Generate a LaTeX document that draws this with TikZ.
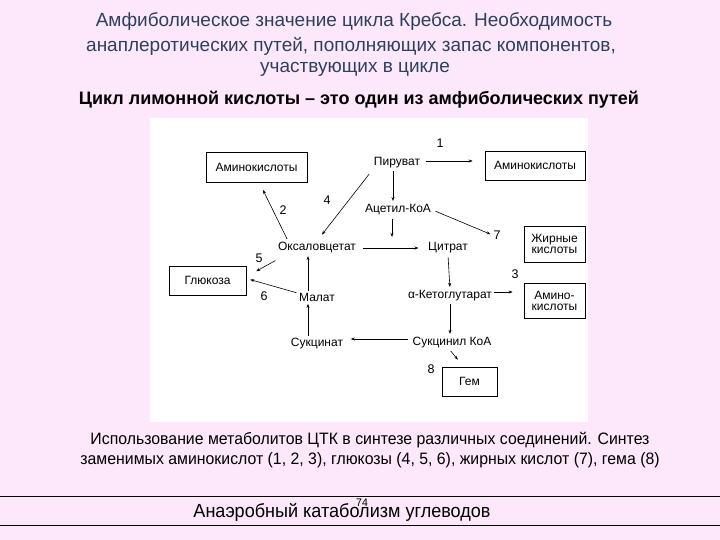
\documentclass[tikz,border=0pt]{standalone}
\usepackage{fontspec}
\setmainfont{Liberation Sans}
\newfontfamily\narrowfont[FakeStretch=0.96]{Liberation Sans}
\newfontfamily\footfont[FakeStretch=0.95]{Liberation Sans}
\usetikzlibrary{arrows.meta}
\definecolor{bgpink}{RGB}{252,232,250}
\definecolor{titleblue}{RGB}{45,65,95}
\tikzset{
  box/.style={draw, line width=0.7pt, inner sep=2pt, font=\fontsize{12}{13}\selectfont, align=center},
  met/.style={inner sep=1.5pt, font=\fontsize{12}{13}\selectfont},
  num/.style={inner sep=1pt, font=\fontsize{12.5}{14}\selectfont},
  arr/.style={-{Stealth[length=4pt,width=3pt]}, line width=0.6pt},
  ttl/.style={text=titleblue, font=\fontsize{19}{22}\selectfont},
}
\begin{document}
\begin{tikzpicture}[x=1pt,y=-1pt]
\useasboundingbox (0,0) rectangle (720,540);
\fill[bgpink] (0,0) rectangle (720,540);
\fill[white] (150,118) rectangle (588,422);

% titles
\node[ttl] (t1) at (354,22) {Амфиболическое значение цикла Кребса. Необходимость};
\node[ttl] (t2) at (351,46) {анаплеротических путей, пополняющих запас компонентов,};
\node[ttl] (t3) at (355,69) {участвующих в цикле};
\node[font=\bfseries\fontsize{18}{20}\selectfont] (t4) at (359,100) {Цикл лимонной кислоты -- это один из амфиболических путей};

% boxes
\node[box, minimum width=101pt, minimum height=30pt] (aa1) at (256.5,167.5) {Аминокислоты};
\node[box, minimum width=100pt, minimum height=29pt] (aa2) at (535,165.5) {Аминокислоты};
\node[box, minimum width=61pt, minimum height=36pt] (fa) at (554.5,244) {Жирные\\[-2pt]кислоты};
\node[box, minimum width=61pt, minimum height=35pt] (aa3) at (554.5,300.5) {Амино-\\[-2pt]кислоты};
\node[box, minimum width=77pt, minimum height=29pt] (glc) at (207.5,280.5) {Глюкоза};
\node[box, minimum width=55pt, minimum height=29pt] (gem) at (469.5,381.5) {Гем};

% metabolites
\node[met] (pyr) at (397,163) {Пируват};
\node[met] (acoa) at (398,210) {Ацетил-КоА};
\node[met] (oxa) at (317,248) {Оксаловцетат};
\node[met] (cit) at (448,248) {Цитрат};
\node[met] (mal) at (317,297) {Малат};
\node[met] (akg) at (450,296) {α-Кетоглутарат};
\node[met] (sca) at (452,343) {Сукцинил КоА};
\node[met] (suc) at (317,344) {Сукцинат};

% numbers
\node[num] (n1) at (440,143) {1};
\node[num] (n2) at (283,210) {2};
\node[num] (n3) at (515,274) {3};
\node[num] (n4) at (327,200) {4};
\node[num] (n5) at (259,258) {5};
\node[num] (n6) at (264,296) {6};
\node[num] (n7) at (497,235) {7};
\node[num] (n8) at (431,369) {8};

% arrows
\draw[arr, shorten <=4pt, shorten >=12pt] ([yshift=2pt]pyr.east) -- ([yshift=2pt]pyr.east -| aa2.west);
\draw[arr, shorten <=1pt, shorten >=2pt] ([xshift=-4pt]pyr.south) -- ([xshift=-4pt]pyr.south |- acoa.north);
\draw[arr, shorten <=5pt, shorten >=8pt] (pyr.south west) -- (oxa.north);
\draw[arr, shorten <=2pt, shorten >=8pt] ([xshift=-29pt]oxa.north) -- ([xshift=3pt]aa1.south);
\draw[arr, shorten <=5pt, shorten >=8pt] (oxa.east) -- (cit.west);
\draw[arr, shorten <=2pt, shorten >=4pt] ([xshift=-6pt]acoa.south) -- ([xshift=-6pt]acoa.south |- cit.north);
\draw[arr, shorten <=3pt, shorten >=2pt] (acoa.east) -- (n7.west);
\draw[arr, shorten <=2pt, shorten >=2pt] (cit.south) -- (akg.north);
\draw[arr, shorten <=0pt, shorten >=11pt] ([yshift=4pt]akg.east) -- ([yshift=4pt]akg.east -| aa3.west);
\draw[arr, shorten <=1pt, shorten >=2pt] (akg.south) -- (akg.south |- sca.north);
\draw[arr, shorten <=3pt, shorten >=6pt] ([yshift=4pt]sca.west) -- ([yshift=4pt]sca.west -| suc.east);
\draw[arr, shorten <=1pt, shorten >=1pt] ([xshift=-9pt]suc.north) -- ([xshift=-9pt]mal.south);
\draw[arr, shorten <=0pt, shorten >=1pt] ([xshift=-9pt]mal.north) -- ([xshift=-9pt]oxa.south);
\draw[arr, shorten <=1pt, shorten >=1pt] ([yshift=-5pt]oxa.south west) -- ([xshift=9pt,yshift=-6pt]glc.north east);
\draw[arr, shorten <=1pt, shorten >=4pt] ([yshift=4pt]mal.west) -- ([yshift=2pt]glc.east);
\draw[arr, shorten <=1pt, shorten >=9pt] ([xshift=-2pt]sca.south) -- ([xshift=-6pt]gem.north);

% caption
\node[font=\narrowfont\fontsize{16.5}{19}\selectfont] (c1) at (370,440) {Использование метаболитов ЦТК в синтезе различных соединений. Синтез};
\node[font=\narrowfont\fontsize{16.5}{19}\selectfont] (c2) at (370,460) {заменимых аминокислот (1, 2, 3), глюкозы (4, 5, 6), жирных кислот (7), гема (8)};

% footer
\draw[line width=0.8pt] (0,496) -- (720,496);
\draw[line width=0.8pt] (0,525) -- (720,525);
\node[font=\footfont\fontsize{19}{21}\selectfont] (ft) at (342,512) {Анаэробный катаболизм углеводов};
\node[font=\footfont\fontsize{11}{12}\selectfont, inner sep=0pt] (pg) at (362,503) {74};
\end{tikzpicture}
\end{document}
